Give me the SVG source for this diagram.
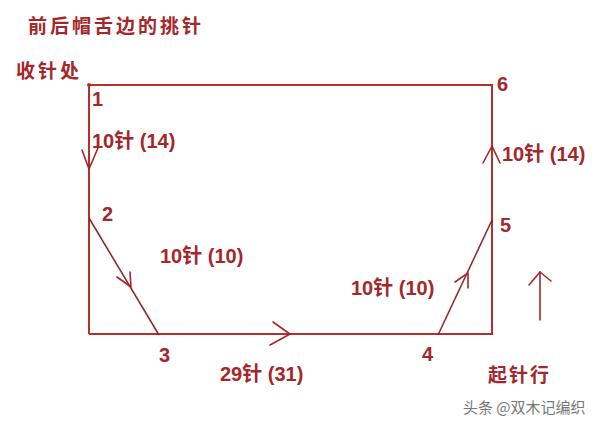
<svg xmlns="http://www.w3.org/2000/svg" width="600" height="426" viewBox="0 0 600 426">
<style>
.t{font-family:"Liberation Sans","Noto Sans CJK SC",sans-serif;font-weight:bold;fill:#a3272b;font-size:20px}
.c{font-family:"Noto Sans CJK SC",sans-serif;font-weight:bold;fill:#a3272b}
.e{stroke:#b3302f;stroke-width:2;fill:none}
.d{stroke:#8e2323;stroke-width:1.5;fill:none}
.a{stroke:#a3272b;stroke-width:1.6;fill:none;stroke-linecap:round;stroke-linejoin:round}
</style>
<rect width="600" height="426" fill="#fff"/>
<text class="c" x="28" y="33" font-size="19" letter-spacing="3">前后帽舌边的挑针</text>
<text class="c" x="16" y="78" font-size="19" letter-spacing="3">收针处</text>
<g id="connectors">
<polyline class="e" points="89,334 89,85 492,85 492,334 89,334"/>
<circle cx="89" cy="85" r="2" fill="#b3302f"/>
<line class="d" x1="89" y1="218" x2="159" y2="335"/>
<line class="d" x1="438" y1="335" x2="492" y2="220"/>
<polyline class="a" points="82,150 89,169 98,148"/>
<polyline class="a" points="117,277 131,287 130,272"/>
<polyline class="a" points="273,322 290,334 270,345"/>
<polyline class="a" points="455,282 468,273 468,288"/>
<polyline class="a" points="483,163 492,146 500,163"/>
<line class="a" x1="540" y1="320" x2="540" y2="272"/>
<polyline class="a" points="529,285 540,272 551,281"/>
</g>
<g id="n1"><text class="t" x="92" y="106">1</text></g>
<g id="l1"><text class="t" x="92" y="148">10针 (14)</text></g>
<g id="n2"><text class="t" x="102" y="221">2</text></g>
<g id="l2"><text class="t" x="160" y="263">10针 (10)</text></g>
<g id="n3"><text class="t" x="159" y="362">3</text></g>
<g id="l3"><text class="t" x="220" y="381">29针 (31)</text></g>
<g id="n4"><text class="t" x="422" y="361">4</text></g>
<g id="l4"><text class="t" x="351" y="295">10针 (10)</text></g>
<g id="n5"><text class="t" x="500" y="232">5</text></g>
<g id="l5"><text class="t" x="502" y="161">10针 (14)</text></g>
<g id="n6"><text class="t" x="497" y="91">6</text></g>
<text class="c" x="488" y="382" font-size="19" letter-spacing="2">起针行</text>
<text x="463" y="413" font-size="15" fill="#777" font-family="Noto Sans CJK SC,sans-serif">头条 @双木记编织</text>
</svg>
